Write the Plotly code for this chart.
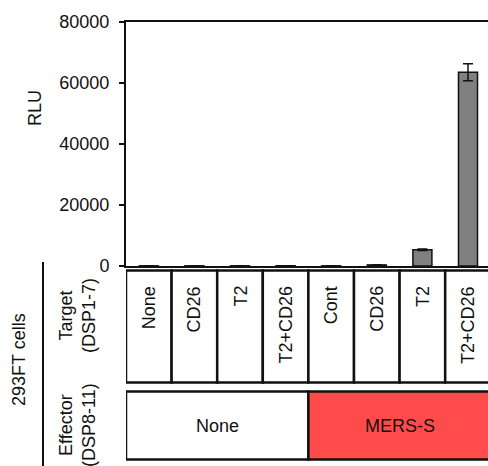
import plotly.graph_objects as go

# ---- data ----
target_labels = ["None", "CD26", "T2", "T2+CD26", "Cont", "CD26", "T2", "T2+CD26"]
rlu_values = [60, 60, 60, 80, 60, 350, 5300, 63500]
rlu_errors = [20, 20, 20, 30, 20, 80, 250, 2800]
effector_groups = ["None", "MERS-S"]
effector_spans = [(0, 3), (4, 7)]
effector_colors = ["#ffffff", "#ff4b4b"]
y_ticks = [0, 20000, 40000, 60000, 80000]

W, H = 488, 466
ML, MR, MT, MB = 126, 0, 22, 200
plot_w = W - ML - MR
plot_h = H - MT - MB
FONT = "Liberation Sans, Arial, sans-serif"
TXT = "#111111"


def py(pix):
    return (H - MB - pix) / plot_h


def px(pix):
    return (pix - ML) / plot_w


xs = list(range(len(target_labels)))

fig = go.Figure()
fig.add_trace(go.Bar(
    x=xs, y=rlu_values,
    marker=dict(color="#808080", line=dict(color="#111111", width=1.5)),
    error_y=dict(type="data", array=rlu_errors, color="#111111", thickness=1.5, width=5),
    showlegend=False,
))

shapes = []
annotations = []

# target row cells
for i, lab in enumerate(target_labels):
    shapes.append(dict(type="rect", xref="x", yref="paper",
                       x0=i - 0.5, x1=i + 0.5, y0=py(382.5), y1=py(270.5),
                       line=dict(color="#111111", width=2.5), fillcolor="white", layer="above"))
    annotations.append(dict(xref="x", yref="paper", x=i, y=py(284), text=lab,
                            textangle=-90, showarrow=False, xanchor="center", yanchor="top",
                            font=dict(family=FONT, size=18, color=TXT)))

# effector row
for lab, (a, b), col in zip(effector_groups, effector_spans, effector_colors):
    shapes.append(dict(type="rect", xref="x", yref="paper",
                       x0=a - 0.5, x1=b + 0.5, y0=py(459.5), y1=py(391.5),
                       line=dict(color="#111111", width=2.5), fillcolor=col, layer="above"))
    annotations.append(dict(xref="x", yref="paper", x=(a + b) / 2, y=py(425.5), text=lab,
                            showarrow=False, xanchor="center", yanchor="middle",
                            font=dict(family=FONT, size=18, color=TXT)))

# row headers
annotations.append(dict(xref="paper", yref="paper", x=px(77), y=py(316),
                        text="Target<br>(DSP1-7)", textangle=-90, showarrow=False,
                        xanchor="center", yanchor="middle", align="center",
                        font=dict(family=FONT, size=18, color=TXT)))
annotations.append(dict(xref="paper", yref="paper", x=px(77), y=py(425),
                        text="Effector<br>(DSP8-11)", textangle=-90, showarrow=False,
                        xanchor="center", yanchor="middle", align="center",
                        font=dict(family=FONT, size=18, color=TXT)))
annotations.append(dict(xref="paper", yref="paper", x=px(19), y=py(359),
                        text="293FT cells", textangle=-90, showarrow=False,
                        xanchor="center", yanchor="middle",
                        font=dict(family=FONT, size=18, color=TXT)))
annotations.append(dict(xref="paper", yref="paper", x=px(35), y=py(108),
                        text="RLU", textangle=-90, showarrow=False,
                        xanchor="center", yanchor="middle",
                        font=dict(family=FONT, size=18, color=TXT)))

# bracket line for 293FT cells
shapes.append(dict(type="line", xref="paper", yref="paper",
                   x0=px(43), x1=px(43), y0=py(262), y1=py(470),
                   line=dict(color="#111111", width=2)))

fig.update_layout(
    width=W, height=H, autosize=False,
    margin=dict(l=ML, r=MR, t=MT, b=MB, pad=0),
    paper_bgcolor="white", plot_bgcolor="white",
    bargap=0.583,
    shapes=shapes, annotations=annotations,
    font=dict(family=FONT, size=18, color=TXT),
    xaxis=dict(range=[-0.5, -0.5 + plot_w / 45.6], showticklabels=False, ticks="",
               showline=True, mirror=True, linecolor="#111111", linewidth=2,
               showgrid=False, zeroline=False, fixedrange=True),
    yaxis=dict(range=[0, 80000], tickvals=y_ticks, tickformat="d", ticks="outside",
               ticklen=5, tickwidth=2, tickcolor="#111111", showline=True,
               linecolor="#111111", linewidth=2, showgrid=False, zeroline=False,
               ticklabelstandoff=6,
               tickfont=dict(family=FONT, size=18, color=TXT)),
)

fig.write_html(
    "out.html",
    config={"displayModeBar": False},
    post_script="document.body.style.margin='0';document.body.style.overflow='hidden';",
)
